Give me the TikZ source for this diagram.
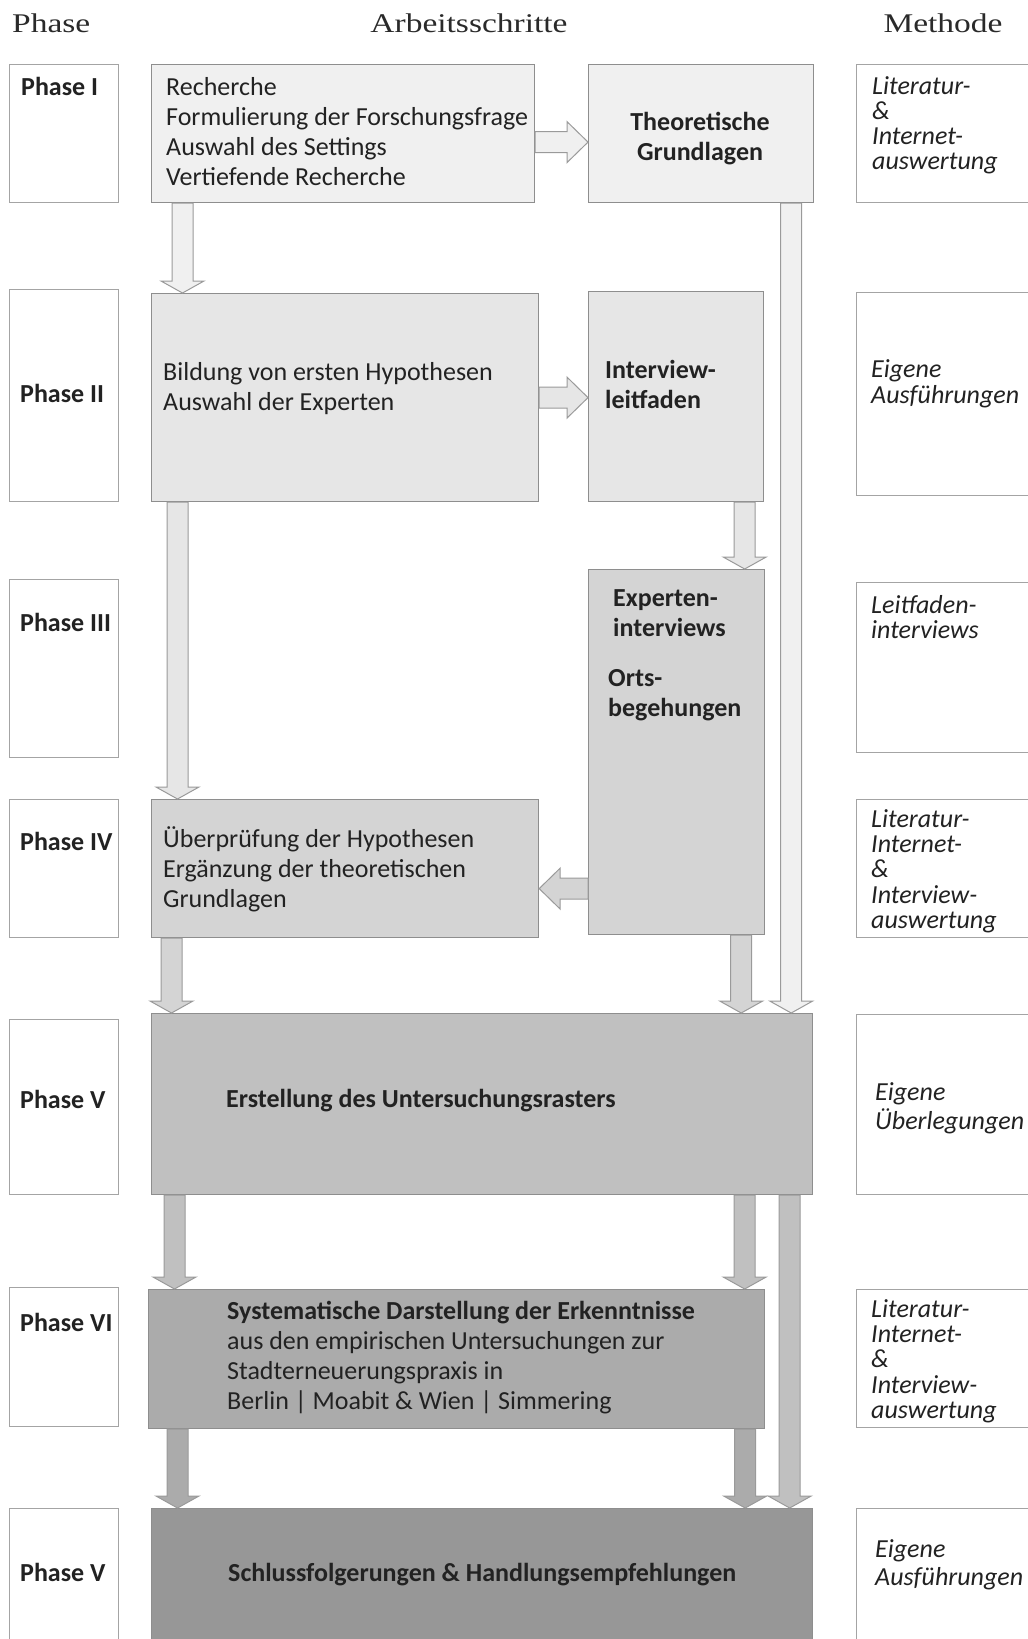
\documentclass[tikz,border=0pt]{standalone}
\usepackage{fontspec}
\setmainfont{Carlito}
\newfontfamily\headfont[FakeStretch=1.24]{Liberation Serif}
\usetikzlibrary{calc}

\definecolor{ink}{HTML}{222222}
\definecolor{headink}{HTML}{2A2A2A}
\definecolor{frame}{HTML}{A4A4A4}
\definecolor{boxline}{HTML}{8E8E8E}
\definecolor{arrline}{HTML}{9A9A9A}
\definecolor{fillA}{HTML}{F0F0F0}
\definecolor{fillB}{HTML}{E6E6E6}
\definecolor{fillC}{HTML}{D4D4D4}
\definecolor{fillD}{HTML}{C0C0C0}
\definecolor{fillE}{HTML}{ABABAB}
\definecolor{fillF}{HTML}{979797}

% rectangle node given by its corners
\newcommand{\panel}[6]{%
  \node[#2, anchor=north west, minimum width={(#5-#3)*1pt},
        minimum height={(#6-#4)*1pt}] (#1) at (#3,#4) {};}

% block arrow pointing down, x taken from the start point
\newcommand{\vblock}[3]{%
  \path[blockarrow, fill=#3] let \p1=(#1), \p2=(#2) in
    (\x1-10.5pt,\y1) -- (\x1+10.5pt,\y1) -- (\x1+10.5pt,\y2+12pt)
    -- (\x1+21.5pt,\y2+12pt) -- (\x1,\y2) -- (\x1-21.5pt,\y2+12pt)
    -- (\x1-10.5pt,\y2+12pt) -- cycle;}

% block arrow pointing right, y taken from the start point
\newcommand{\rblock}[3]{%
  \path[blockarrow, fill=#3] let \p1=(#1), \p2=(#2) in
    (\x1,\y1+10.5pt) -- (\x2-21pt,\y1+10.5pt) -- (\x2-21pt,\y1+20.5pt)
    -- (\x2,\y1) -- (\x2-21pt,\y1-20.5pt) -- (\x2-21pt,\y1-10.5pt)
    -- (\x1,\y1-10.5pt) -- cycle;}

% block arrow pointing left, y taken from the start point
\newcommand{\lblock}[3]{%
  \path[blockarrow, fill=#3] let \p1=(#1), \p2=(#2) in
    (\x1,\y1+10.5pt) -- (\x2+21pt,\y1+10.5pt) -- (\x2+21pt,\y1+20.5pt)
    -- (\x2,\y1) -- (\x2+21pt,\y1-20.5pt) -- (\x2+21pt,\y1-10.5pt)
    -- (\x1,\y1-10.5pt) -- cycle;}

% stacked lines, baseline on the first line
\newcommand{\linesl}[1]{\begin{tabular}[t]{@{}l@{}}#1\end{tabular}}
\newcommand{\linesc}[1]{\begin{tabular}[t]{@{}c@{}}#1\end{tabular}}

\begin{document}
\begin{tikzpicture}[x=1pt, y=-1pt,
  phasebox/.style={draw=frame, fill=white, line width=1.2pt, inner sep=0pt},
  stepbox/.style={draw=boxline, line width=1.2pt, inner sep=0pt},
  blockarrow/.style={draw=arrline, line width=1pt, line join=miter},
  head/.style={inner sep=0pt, text=headink, font=\headfont\fontsize{27}{30}\selectfont},
  body/.style={anchor=base west, inner sep=0pt, text=ink, font=\fontsize{26}{30}\selectfont},
  bodybold/.style={body, font=\fontsize{26}{30}\selectfont\bfseries},
  meth/.style={body, font=\fontsize{26}{25.3}\selectfont\itshape},
  methwide/.style={body, font=\fontsize{26}{28}\selectfont\itshape}]

\useasboundingbox[fill=white] (0,0) rectangle (1028,1639);

% column headings
\node[head, anchor=base west] (hphase) at (12,32) {Phase};
\node[head, anchor=base] (hsteps) at (469,32) {Arbeitsschritte};
\node[head, anchor=base] (hmeth) at (943,32) {Methode};

% phase column
\panel{p1}{phasebox}{9}{64}{118}{202}
\panel{p2}{phasebox}{9}{289}{118}{501}
\panel{p3}{phasebox}{9}{579}{118}{757}
\panel{p4}{phasebox}{9}{799}{118}{937}
\panel{p5}{phasebox}{9}{1019}{118}{1194}
\panel{p6}{phasebox}{9}{1287}{118}{1426}
\panel{p7}{phasebox}{9}{1508}{118}{1660}

% method column
\panel{m1}{phasebox}{856}{64}{1040}{202}
\panel{m2}{phasebox}{856}{292}{1040}{495}
\panel{m3}{phasebox}{856}{582}{1040}{752}
\panel{m4}{phasebox}{856}{799}{1040}{937}
\panel{m5}{phasebox}{856}{1014}{1040}{1194}
\panel{m6}{phasebox}{856}{1289}{1040}{1427}
\panel{m7}{phasebox}{856}{1508}{1040}{1660}

% work steps
\panel{a1}{stepbox, fill=fillA}{151}{64}{534}{202}
\panel{t}{stepbox, fill=fillA}{588}{64}{813}{202}
\panel{a2}{stepbox, fill=fillB}{151}{293}{538}{501}
\panel{il}{stepbox, fill=fillB}{588}{291}{763}{501}
\panel{ex}{stepbox, fill=fillC}{588}{569}{764}{934}
\panel{a4}{stepbox, fill=fillC}{151}{799}{538}{937}
\panel{a5}{stepbox, fill=fillD}{151}{1013}{812}{1194}
\panel{a6}{stepbox, fill=fillE}{148}{1289}{764}{1428}
\panel{a7}{stepbox, fill=fillF}{151}{1508}{812}{1660}

% connectors
\rblock{$(a1.east)+(0,8.5)$}{t.west}{fillA}
\vblock{$(a1.south west)+(31.5,0)$}{a2.north}{fillA}
\rblock{a2.east}{il.west}{fillB}
\vblock{$(a2.south west)+(26.5,0)$}{a4.north}{fillB}
\vblock{$(il.south east)+(-19.5,0)$}{ex.north}{fillB}
\lblock{$(ex.west |- a4.east)+(0,20)$}{a4.east}{fillC}
\vblock{$(a4.south west)+(20.5,0)$}{a5.north}{fillC}
\vblock{$(ex.south east)+(-24,0)$}{a5.north}{fillC}
\vblock{$(t.south east)+(-23,0)$}{a5.north}{fillA}
\vblock{$(a5.south west)+(23.5,0)$}{a6.north}{fillD}
\vblock{$(a5.south east)+(-68.5,0)$}{a6.north}{fillD}
\vblock{$(a5.south east)+(-23.5,0)$}{a7.north}{fillD}
\vblock{$(a6.south west)+(29.5,0)$}{a7.north}{fillE}
\vblock{$(a6.south east)+(-20,0)$}{a7.north}{fillE}

% phase labels
\node[bodybold] (p1t) at (21,95) {Phase I};
\node[bodybold] (p2t) at (20,402) {Phase II};
\node[bodybold] (p3t) at (20,631) {Phase III};
\node[bodybold] (p4t) at (20,850) {Phase IV};
\node[bodybold] (p5t) at (20,1108) {Phase V};
\node[bodybold] (p6t) at (20,1331) {Phase VI};
\node[bodybold] (p7t) at (20,1581) {Phase V};

% work step texts
\node[body] (a1t) at (166,95) {\linesl{Recherche\\Formulierung der Forschungsfrage\\Auswahl des Settings\\Vertiefende Recherche}};
\node[bodybold, anchor=base] (tt) at (700,130) {\linesc{Theoretische\\Grundlagen}};
\node[body] (a2t) at (163,380) {\linesl{Bildung von ersten Hypothesen\\Auswahl der Experten}};
\node[bodybold] (ilt) at (605,378) {\linesl{Interview-\\leitfaden}};
\node[bodybold] (ext) at (613,606) {\linesl{Experten-\\interviews}};
\node[bodybold] (ext2) at (608,686) {\linesl{Orts-\\begehungen}};
\node[body] (a4t) at (163,847) {\linesl{Überprüfung der Hypothesen\\Ergänzung der theoretischen\\Grundlagen}};
\node[bodybold] (a5t) at (226,1107) {Erstellung des Untersuchungsrasters};
\node[body] (a6t) at (227,1319) {\linesl{\textbf{Systematische Darstellung der Erkenntnisse}\\aus den empirischen Untersuchungen zur\\Stadterneuerungspraxis in\\Berlin | Moabit \& Wien | Simmering}};
\node[bodybold] (a7t) at (228,1581) {Schlussfolgerungen \& Handlungsempfehlungen};

% method texts
\node[meth] (m1t) at (872,94) {\linesl{Literatur-\\\&\\Internet-\\auswertung}};
\node[meth, font=\fontsize{26}{26}\selectfont\itshape] (m2t) at (871,377) {\linesl{Eigene\\Ausführungen}};
\node[meth] (m3t) at (871,613) {\linesl{Leitfaden-\\interviews}};
\node[meth] (m4t) at (871,827) {\linesl{Literatur-\\Internet-\\\&\\Interview-\\auswertung}};
\node[methwide] (m5t) at (875,1100) {\linesl{Eigene\\Überlegungen}};
\node[meth] (m6t) at (871,1317) {\linesl{Literatur-\\Internet-\\\&\\Interview-\\auswertung}};
\node[methwide] (m7t) at (875,1557) {\linesl{Eigene\\Ausführungen}};
\end{tikzpicture}
\end{document}
